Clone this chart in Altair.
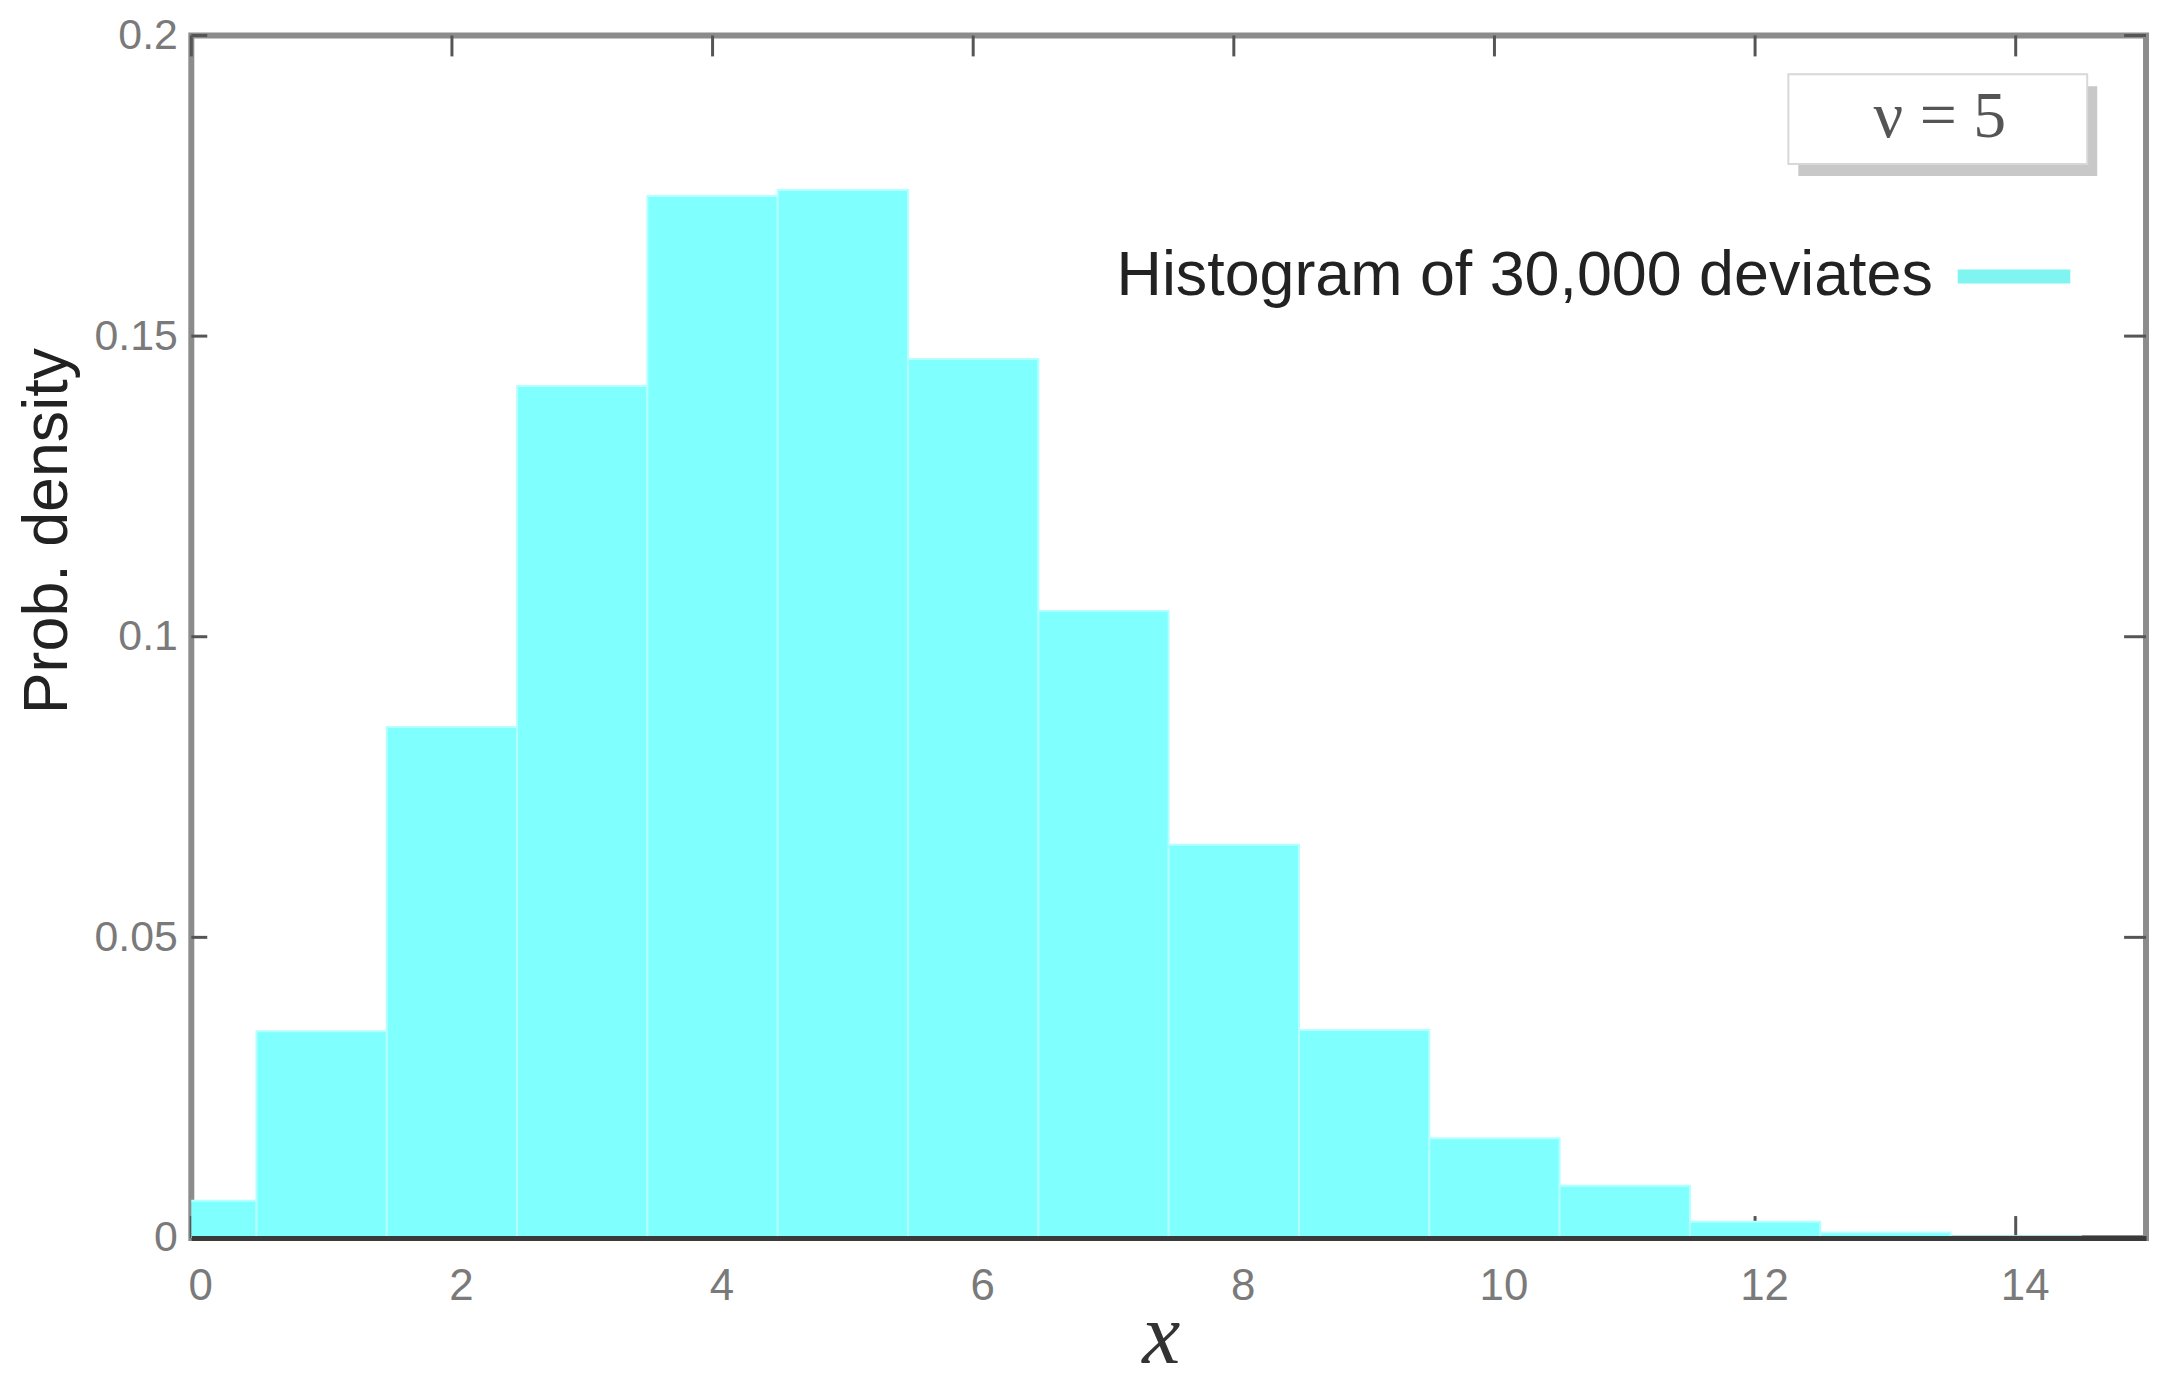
import altair as alt
import pandas as pd

# ---- data ----
BIN_CENTERS = [0, 1, 2, 3, 4, 5, 6, 7, 8, 9, 10, 11, 12, 13, 14]
DENSITY = [0.0062, 0.0344, 0.0850, 0.1417, 0.1733, 0.1743, 0.1462, 0.1043,
           0.0654, 0.0346, 0.0166, 0.0087, 0.0027, 0.0009, 0.0003]
X_TICKS = [0, 2, 4, 6, 8, 10, 12, 14]
Y_TICKS = [0, 0.05, 0.1, 0.15, 0.2]
LEGEND_LABEL = ["Histogram of 30,000 deviates"]
PARAM_LABEL = ["ν = 5"]

W, H = 1962, 1207
BAR_COLOR = "#80ffff"

bars_df = pd.DataFrame({"center": BIN_CENTERS, "density": DENSITY})
xt_df = pd.DataFrame({"v": X_TICKS})
yt_df = pd.DataFrame({"v": Y_TICKS})

xscale = alt.Scale(domain=[0, 15], nice=False, zero=False)
yscale = alt.Scale(domain=[0, 0.2], nice=False)

x_axis = alt.Axis(
    values=X_TICKS, title="x", titleFont="Liberation Serif", titleFontStyle="italic",
    titleFontSize=86, titleFontWeight="normal", titleColor="#333333",
    titleX=973, titleY=125, titleBaseline="alphabetic", titleAlign="center",
    labelFont="Liberation Sans", labelFontSize=44, labelColor="#7a7a7a",
    labelPadding=27, labelOffset=9, labelFlush=False, labelOverlap=False,
    ticks=False, domain=True, domainColor="#3a3a3a", domainWidth=5,
    grid=False, zindex=1,
)
y_axis = alt.Axis(
    values=Y_TICKS, format="~g", title="Prob. density", titleFont="Liberation Sans",
    titleFontSize=63, titleFontWeight="normal", titleColor="#222222",
    titleX=-125, titleY=497, titleAngle=270, titleBaseline="alphabetic", titleAlign="center",
    labelFont="Liberation Sans", labelFontSize=43, labelColor="#7a7a7a",
    labelPadding=14, labelOverlap=False, labelFlush=False,
    ticks=False, domain=False, grid=False, zindex=1,
)

bars = alt.Chart(bars_df).transform_calculate(
    x0="datum.center - 0.5", x1="datum.center + 0.5"
).mark_rect(color=BAR_COLOR, stroke="#b4ffff", strokeWidth=2, clip=True).encode(
    x=alt.X("x0:Q", scale=xscale, axis=x_axis),
    x2="x1:Q",
    y=alt.Y("density:Q", scale=yscale, axis=y_axis),
    y2=alt.datum(0),
)

tick_style = dict(color="#555555", strokeWidth=3)
bottom_ticks = alt.Chart(xt_df).mark_rule(**tick_style).encode(
    x=alt.X("v:Q", scale=xscale, axis=x_axis), y=alt.value(H), y2=alt.value(H - 22))
top_ticks = alt.Chart(xt_df).mark_rule(**tick_style).encode(
    x=alt.X("v:Q", scale=xscale, axis=x_axis), y=alt.value(0), y2=alt.value(21))
left_ticks = alt.Chart(yt_df).mark_rule(**tick_style).encode(
    y=alt.Y("v:Q", scale=yscale, axis=y_axis), x=alt.value(0), x2=alt.value(16))
right_ticks = alt.Chart(yt_df).mark_rule(**tick_style).encode(
    y=alt.Y("v:Q", scale=yscale, axis=y_axis), x=alt.value(W), x2=alt.value(W - 22))

one = pd.DataFrame({"k": [0]})
shadow = alt.Chart(one).mark_rect(color="#9a9a9a", opacity=0.55).encode(
    x=alt.value(1613), x2=alt.value(1913), y=alt.value(51), y2=alt.value(141))
box = alt.Chart(one).mark_rect(fill="white", stroke="#d8d8d8", strokeWidth=2).encode(
    x=alt.value(1603), x2=alt.value(1903), y=alt.value(39), y2=alt.value(129))
param_text = alt.Chart(pd.DataFrame({"t": PARAM_LABEL})).mark_text(
    font="Liberation Serif", fontSize=66, color="#555555", align="center", baseline="middle"
).encode(text="t:N", x=alt.value(1755), y=alt.value(82))

legend_text = alt.Chart(pd.DataFrame({"t": LEGEND_LABEL})).mark_text(
    font="Liberation Sans", fontSize=63, color="#222222", align="right", baseline="alphabetic"
).encode(text="t:N", x=alt.value(1748), y=alt.value(260))
legend_line = alt.Chart(one).mark_rule(color="#80f4f0", strokeWidth=14).encode(
    x=alt.value(1773), x2=alt.value(1886), y=alt.value(242))

chart = alt.layer(
    bottom_ticks, top_ticks, left_ticks, right_ticks, bars,
    shadow, box, param_text, legend_text, legend_line,
).properties(
    width=W, height=H,
    autosize=alt.AutoSizeParams(type="none"),
    padding={"left": 184, "top": 25, "right": 4, "bottom": 150},
    background="white",
).configure_view(
    stroke="#8c8c8c", strokeWidth=6,
)

chart.save("out.html", embed_options={"renderer": "svg", "actions": False})
